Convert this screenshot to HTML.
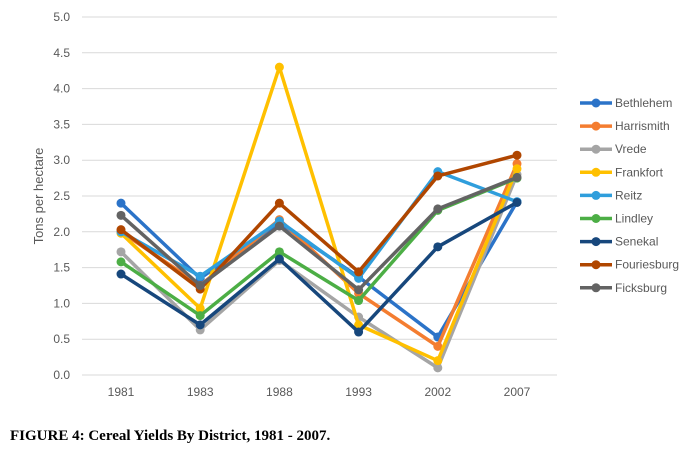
<!DOCTYPE html>
<html><head><meta charset="utf-8"><style>
body{margin:0;background:#fff;width:697px;height:459px;overflow:hidden}
text{font-family:"Liberation Sans",sans-serif}
</style></head><body>
<svg id="c" width="697" height="459"></svg>
<script>
const years=["1981","1983","1988","1993","2002","2007"];
const yTicks=[0,0.5,1,1.5,2,2.5,3,3.5,4,4.5,5];
const seriesNames=["Bethlehem","Harrismith","Vrede","Frankfort","Reitz","Lindley","Senekal","Fouriesburg","Ficksburg"];
const bethlehem=[2.4,1.35,2.12,1.37,0.53,2.42];
const harrismith=[2.0,1.25,2.17,1.14,0.40,2.95];
const vrede=[1.72,0.63,1.6,0.81,0.10,2.8];
const frankfort=[1.98,0.93,4.3,0.70,0.20,2.88];
const reitz=[2.0,1.38,2.15,1.35,2.84,2.42];
const lindley=[1.58,0.83,1.72,1.04,2.3,2.75];
const senekal=[1.41,0.7,1.62,0.60,1.79,2.41];
const fouriesburg=[2.03,1.2,2.4,1.44,2.78,3.07];
const ficksburg=[2.23,1.25,2.08,1.19,2.32,2.76];
const colors=["#2B73C8","#F47D30","#A5A5A5","#FFC000","#2F9EDC","#4CAE45","#17477C","#B04600","#636363"];
const data=[bethlehem,harrismith,vrede,frankfort,reitz,lindley,senekal,fouriesburg,ficksburg];
const svg=document.getElementById('c');const NS="http://www.w3.org/2000/svg";
function mk(t,a,p){const e=document.createElementNS(NS,t);for(const k in a)e.setAttribute(k,a[k]);(p||svg).appendChild(e);return e;}
const x=i=>121+i*79.2;
const y=v=>375-v*71.6;
yTicks.forEach(v=>{
 const g=mk('line',{x1:82,x2:557,y1:y(v),y2:y(v),stroke:'#d9d9d9','stroke-width':1});
 
 
 const t=mk('text',{x:70,y:y(v)+4,'text-anchor':'end','font-size':12,fill:'#595959'});t.textContent=v.toFixed(1);
 
 
});
years.forEach((yr,i)=>{const t=mk('text',{x:x(i),y:396,'text-anchor':'middle','font-size':12,fill:'#595959'});t.textContent=yr;
 
 });
const yt=mk('text',{x:0,y:0,transform:'translate(43,196) rotate(-90)','text-anchor':'middle','font-size':13,fill:'#595959'});yt.textContent='Tons per hectare';


data.forEach((s,k)=>{
 const g=mk('g',{});
 
 
 mk('polyline',{points:s.map((v,i)=>x(i)+','+y(v)).join(' '),fill:'none',stroke:colors[k],'stroke-width':3.5,'stroke-linejoin':'round'},g);
 s.forEach((v,i)=>{const c=mk('circle',{cx:x(i),cy:y(v),r:4.5,fill:colors[k]},g);
  
  });
 const ly=103+k*23.1;
 const lg=mk('g',{});
 
 
 mk('line',{x1:580,x2:612,y1:ly,y2:ly,stroke:colors[k],'stroke-width':3.5},lg);
 mk('circle',{cx:596,cy:ly,r:4.5,fill:colors[k]},lg);
 const t=mk('text',{x:615,y:ly+4,'font-size':12,fill:'#595959'},lg);t.textContent=seriesNames[k];
});
const cap=mk('text',{x:10,y:440,'font-size':15,'font-weight':'bold',fill:'#000',style:'font-family:"Liberation Serif",serif'});cap.textContent='FIGURE 4: Cereal Yields By District, 1981 - 2007.';


</script>
</body></html>
